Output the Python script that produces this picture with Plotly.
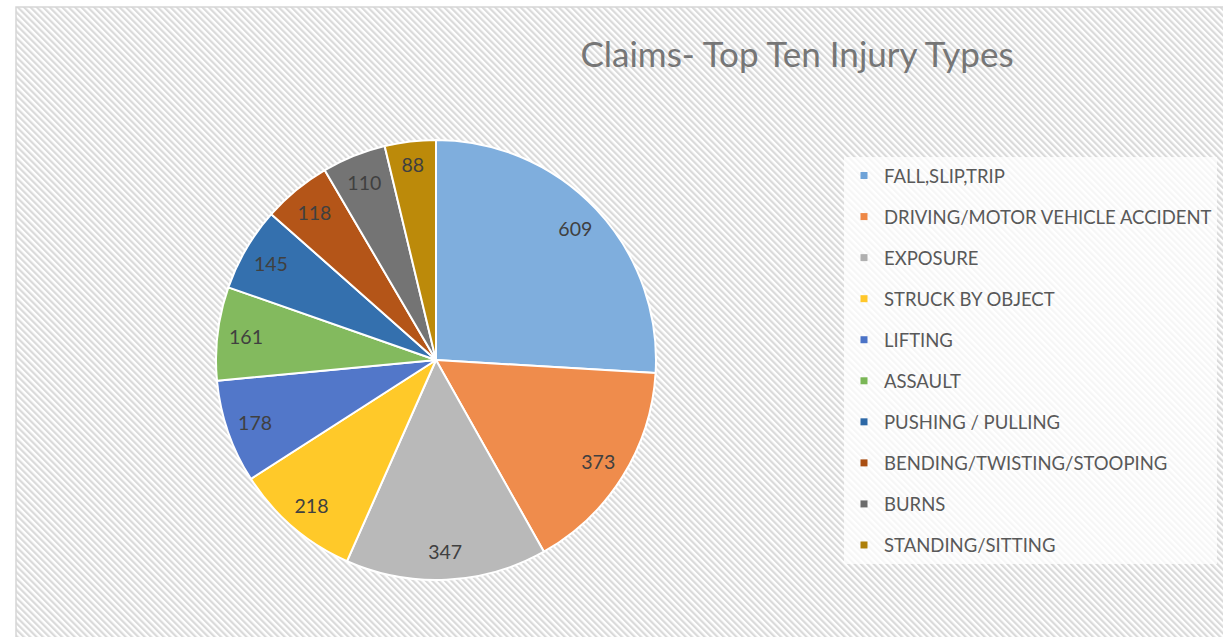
import base64
import plotly.graph_objects as go

categories = ["FALL,SLIP,TRIP", "DRIVING/MOTOR VEHICLE ACCIDENT", "EXPOSURE",
              "STRUCK BY OBJECT", "LIFTING", "ASSAULT", "PUSHING / PULLING",
              "BENDING/TWISTING/STOOPING", "BURNS", "STANDING/SITTING"]
claims = [609, 373, 347, 218, 178, 161, 145, 118, 110, 88]
colors = ["#7FAEDD", "#EF8C4C", "#B9B9B9", "#FFC929", "#5277C9",
          "#83BA5E", "#3470AE", "#B45518", "#747474", "#BC8A0A"]
legend_colors = ["#6FA3D8", "#EE8846", "#B0B0B0", "#FFC72A", "#4B73C7",
                 "#7AB656", "#2D68A6", "#A94E12", "#6B6B6B", "#AE800A"]

W, H = 1223, 637
font_family = "Lato, 'Open Sans', sans-serif"

# hatched chart-area background (Excel style)
svg = (
    '<svg xmlns="http://www.w3.org/2000/svg" width="1207" height="630">'
    '<defs><pattern id="p" patternUnits="userSpaceOnUse" width="4.5" height="4.5" '
    'patternTransform="rotate(-45)">'
    '<rect width="4.5" height="4.5" fill="#FFFFFF"/>'
    '<rect width="2.2" height="4.5" fill="#DADADA"/></pattern></defs>'
    '<rect width="1207" height="630" fill="url(#p)"/></svg>'
)
svg_uri = "data:image/svg+xml;base64," + base64.b64encode(svg.encode()).decode()

pie_domain = dict(x=[216 / W, 656 / W], y=[1 - 580 / H, 1 - 140 / H])

fig = go.Figure()

# coloured slices
fig.add_trace(go.Pie(
    labels=categories,
    values=claims,
    sort=False,
    direction="clockwise",
    rotation=0,
    marker=dict(colors=colors, line=dict(color="white", width=2)),
    textinfo="none",
    showlegend=False,
    hoverinfo="label+value",
    domain=pie_domain,
))

# value labels, placed in the outer ring like Excel's data labels
fig.add_trace(go.Pie(
    labels=categories,
    values=claims,
    sort=False,
    direction="clockwise",
    rotation=0,
    hole=0.74,
    marker=dict(colors=["rgba(0,0,0,0)"] * len(claims), line=dict(width=0)),
    textinfo="value",
    textposition="inside",
    insidetextorientation="horizontal",
    textfont=dict(family=font_family, size=19.5, color="#404040"),
    showlegend=False,
    hoverinfo="skip",
    domain=pie_domain,
))

for name, col in zip(categories, legend_colors):
    fig.add_trace(go.Scatter(
        x=[None], y=[None], mode="markers", name=name, legendgroup=name,
        marker=dict(symbol="square", size=7, color=col),
    ))

fig.update_layout(
    width=W, height=H,
    margin=dict(l=0, r=0, t=0, b=0),
    paper_bgcolor="white",
    plot_bgcolor="rgba(0,0,0,0)",
    xaxis=dict(visible=False),
    yaxis=dict(visible=False),
    title=dict(text="Claims- Top Ten Injury Types", x=797 / W, xanchor="center",
               y=1 - 55 / H, yanchor="middle",
               font=dict(family=font_family, size=35, color="#767676")),
    legend=dict(
        x=844 / W, xanchor="left", y=1 - 157 / H, yanchor="top",
        bgcolor="rgba(255,255,255,0.75)",
        font=dict(family=font_family, size=18.5, color="#595959"),
        tracegroupgap=14, itemwidth=30,
    ),
    images=[dict(source=svg_uri, xref="paper", yref="paper", x=16 / W, y=1 - 7 / H,
                 sizex=1 - 16 / W, sizey=1 - 7 / H, xanchor="left", yanchor="top",
                 sizing="stretch", layer="below")],
    shapes=[dict(type="rect", xref="paper", yref="paper", x0=16 / W, x1=1.01,
                 y0=-0.01, y1=1 - 7 / H, line=dict(color="#D6D6D6", width=1.5),
                 layer="below")],
)

fig.write_html("out.html", config={"displayModeBar": False},
               post_script="document.body.style.margin='0px';")
